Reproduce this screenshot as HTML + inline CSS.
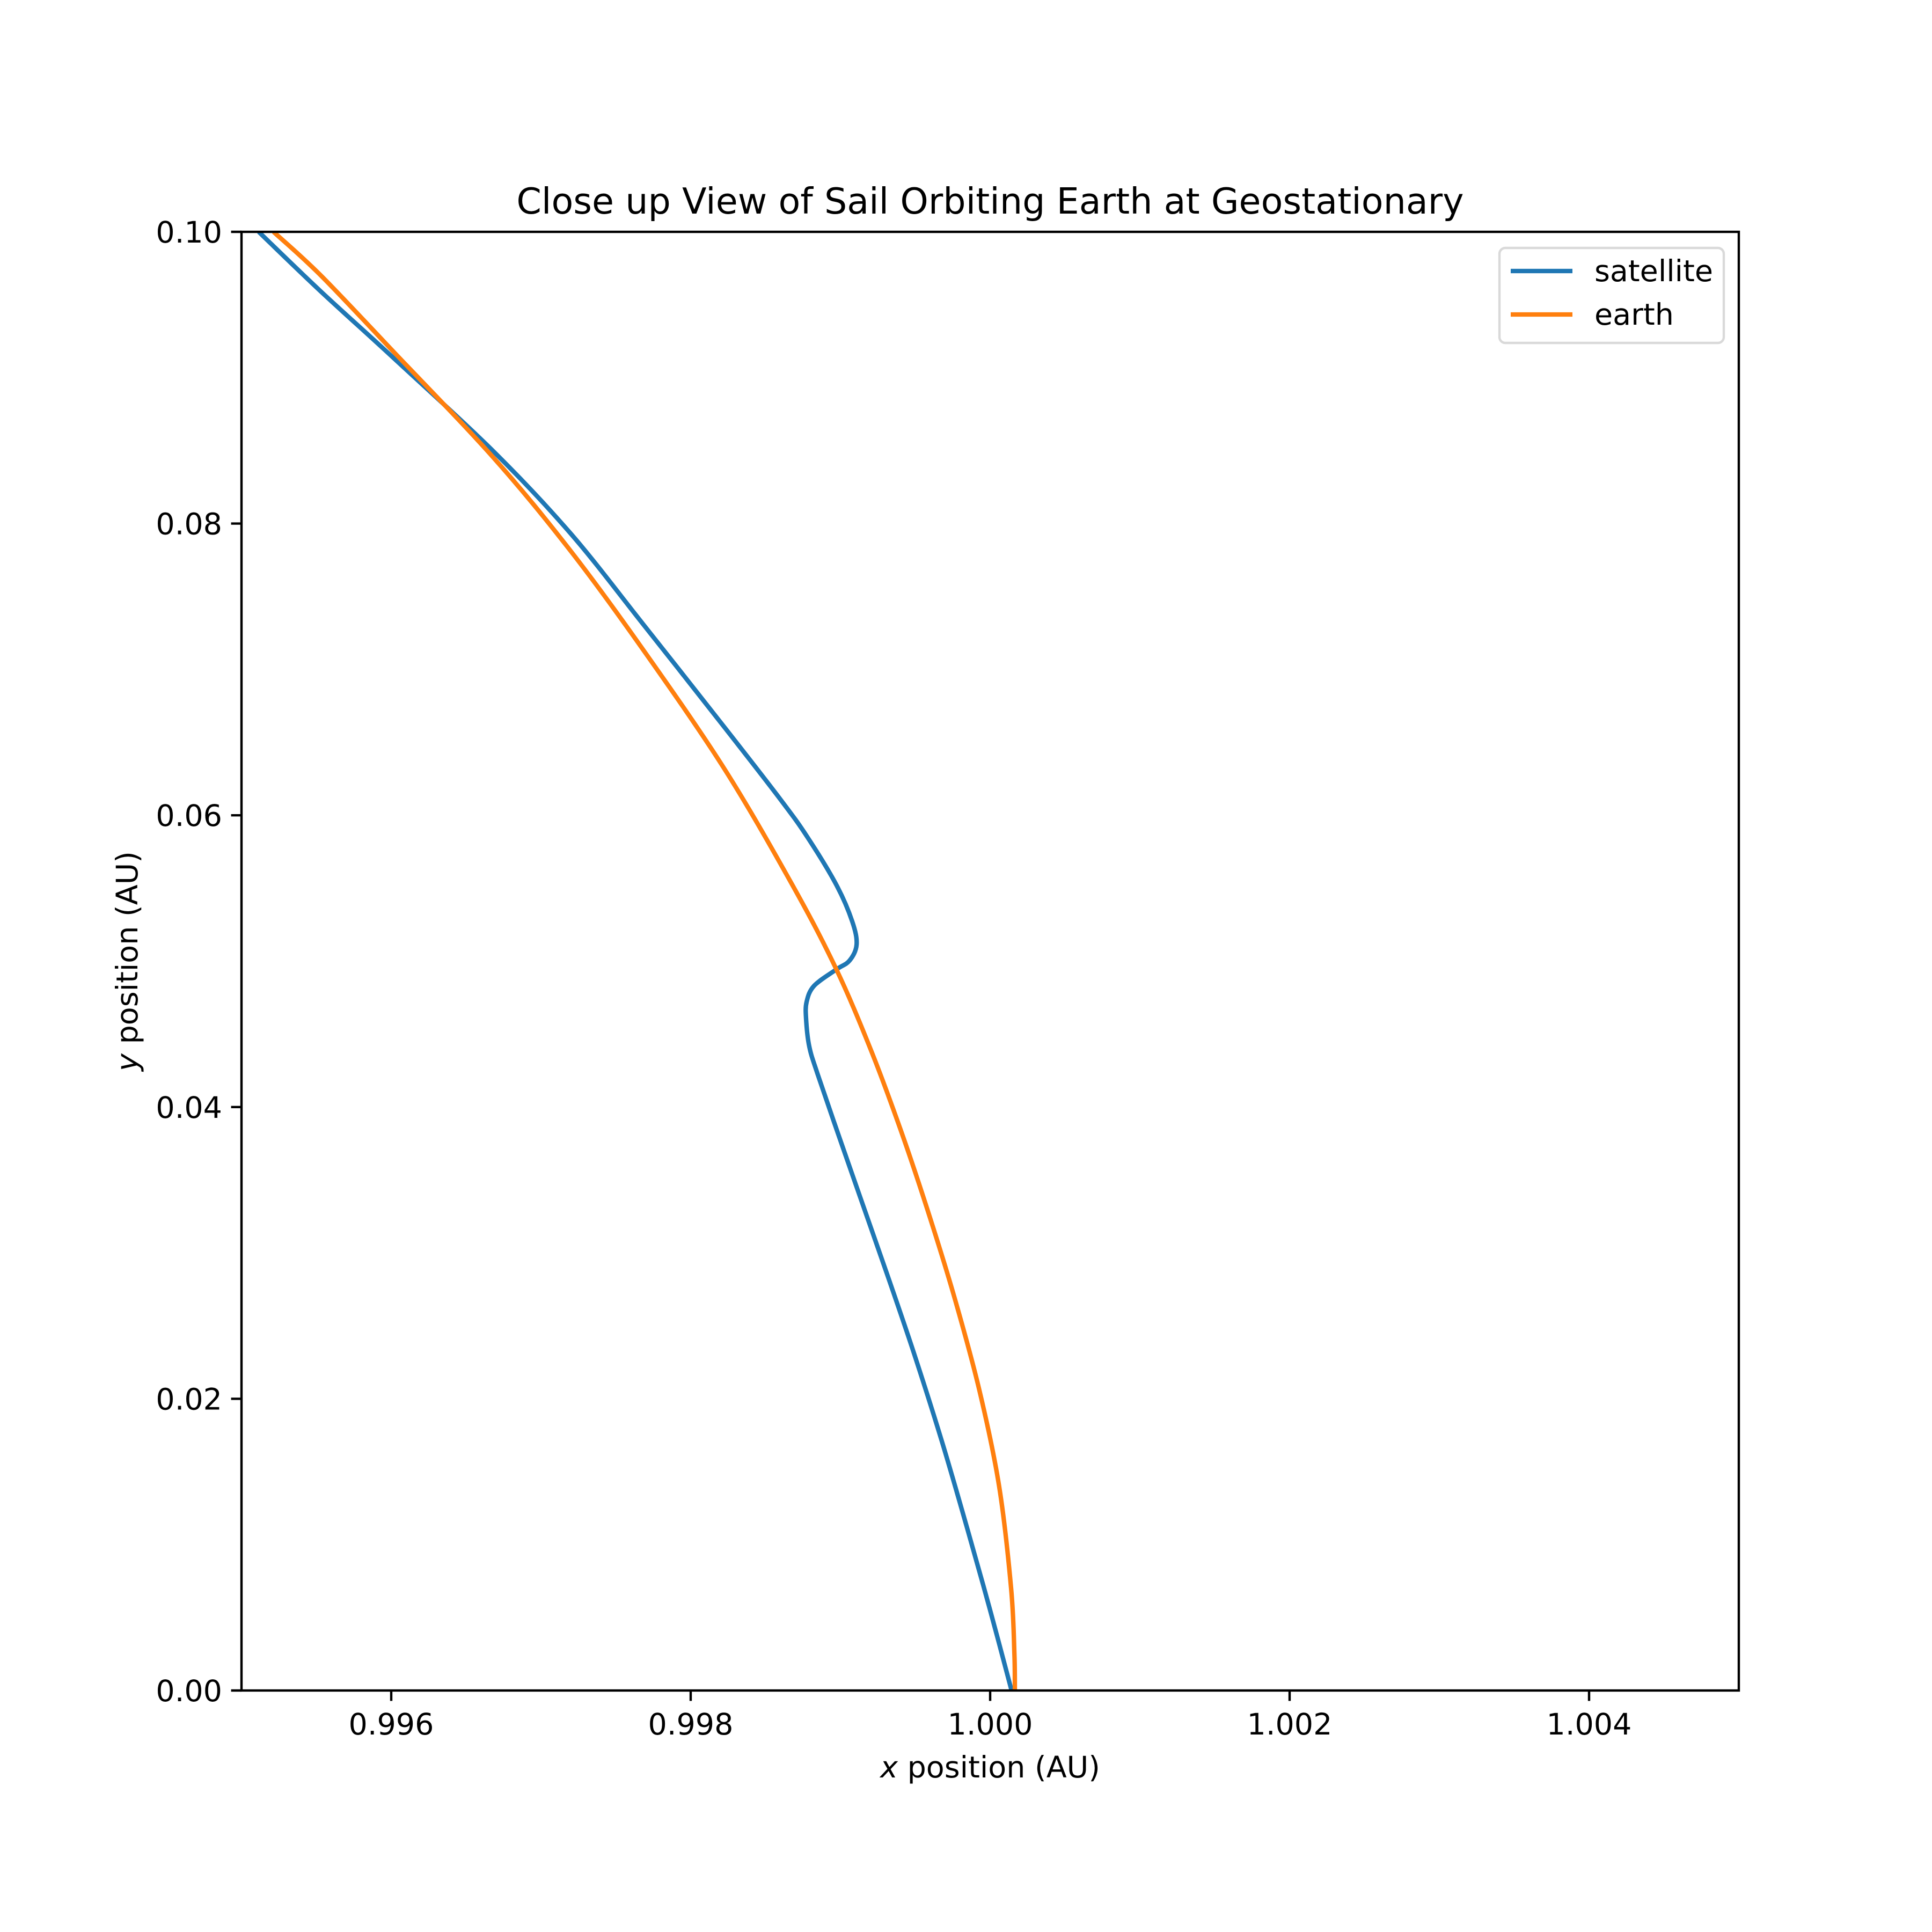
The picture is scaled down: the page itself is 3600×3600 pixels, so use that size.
<!DOCTYPE html>
<html><head><meta charset="utf-8"><style>
html,body{margin:0;padding:0;background:#fff}
svg{display:block}
text{font-family:"DejaVu Sans","Liberation Sans",sans-serif;fill:#000}
</style></head><body>
<svg id="chart" width="3600" height="3600" viewBox="0 0 3600 3600" xmlns="http://www.w3.org/2000/svg">
<rect x="0" y="0" width="3600" height="3600" fill="#fff"/>
<defs><clipPath id="plotclip"><rect x="450" y="432" width="2790" height="2718"/></clipPath></defs>
<g id="series" clip-path="url(#plotclip)"></g>
<g id="axes"></g>
<text x="1845" y="398" font-size="66.7" text-anchor="middle">Close up View of Sail Orbiting Earth at Geostationary</text>
<text x="1845" y="3312" font-size="55.5" text-anchor="middle"><tspan font-style="italic">x</tspan> position (AU)</text>
<text x="0" y="0" font-size="55.5" text-anchor="middle" transform="translate(256,1791) rotate(-90)"><tspan font-style="italic">y</tspan> position (AU)</text>
<g>
<rect x="2794" y="462" width="418" height="177" rx="11" fill="#fff" fill-opacity="0.8" stroke="#d9d9d9" stroke-width="4.4"/>
<line x1="2815" y1="505" x2="2930" y2="505" stroke="#1f77b4" stroke-width="8.3"/>
<text x="2971" y="524" font-size="55.5">satellite</text>
<line x1="2815" y1="586" x2="2930" y2="586" stroke="#ff7f0e" stroke-width="8.3"/>
<text x="2971" y="605" font-size="55.5">earth</text>
</g>
</svg>
<script>
const xTicks = [0.996, 0.998, 1.000, 1.002, 1.004];
const xTickLabels = ["0.996", "0.998", "1.000", "1.002", "1.004"];
const yTicks = [0, 0.02, 0.04, 0.06, 0.08, 0.10];
const yTickLabels = ["0.00", "0.02", "0.04", "0.06", "0.08", "0.10"];
const satX = [0.995115,0.995527,0.996021,0.996681,0.997200,0.997688,0.998226,0.998600,0.998780,0.998975,0.999079,0.999108,0.999061,0.998971,0.998824,0.998774,0.998771,0.998792,0.998846,0.998990,0.999160,0.999330,0.999495,0.999680,0.999850,1.000000,1.000143];
const satY = [0.1000,0.09594,0.09130,0.08497,0.07930,0.07303,0.06603,0.06108,0.05850,0.05519,0.05272,0.05114,0.05004,0.04942,0.04831,0.04720,0.04599,0.04415,0.04231,0.03800,0.03300,0.02800,0.02300,0.01700,0.01100,0.00550,0.0];
const earthX = [0.995214,0.995527,0.996021,0.996681,0.997200,0.997688,0.998226,0.998681,0.998971,0.999200,0.999400,0.999580,0.999760,0.999930,1.000060,1.000140,1.000162,1.000165];
const earthY = [0.1000,0.09704,0.09172,0.08454,0.07810,0.07127,0.06317,0.05519,0.04948,0.04400,0.03850,0.03300,0.02700,0.02050,0.01400,0.00700,0.00250,0.0];

const NS = "http://www.w3.org/2000/svg";
const L = 450, R = 3240, T = 432, B = 3150;
const xMin = 0.995, xMax = 1.005, yMin = 0, yMax = 0.1;
function sx(v){ return L + (v - xMin) / (xMax - xMin) * (R - L); }
function sy(v){ return B - (v - yMin) / (yMax - yMin) * (B - T); }

function smoothPath(xs, ys){
  const p = xs.map((x,i)=>[sx(x), sy(ys[i])]);
  let d = "M" + p[0][0] + "," + p[0][1];
  for (let i = 0; i < p.length - 1; i++){
    const p0 = p[Math.max(0,i-1)], p1 = p[i], p2 = p[i+1], p3 = p[Math.min(p.length-1,i+2)];
    const c1x = p1[0] + (p2[0]-p0[0])/6, c1y = p1[1] + (p2[1]-p0[1])/6;
    const c2x = p2[0] - (p3[0]-p1[0])/6, c2y = p2[1] - (p3[1]-p1[1])/6;
    d += " C" + c1x + "," + c1y + " " + c2x + "," + c2y + " " + p2[0] + "," + p2[1];
  }
  return d;
}

const series = document.getElementById("series");
const sat = document.createElementNS(NS, "path");


sat.setAttribute("d", smoothPath(satX, satY));
sat.setAttribute("fill", "none"); sat.setAttribute("stroke", "#1f77b4"); sat.setAttribute("stroke-width", "8.3");
sat.setAttribute("stroke-linejoin", "round");
series.appendChild(sat);
const earth = document.createElementNS(NS, "path");


earth.setAttribute("d", smoothPath(earthX, earthY));
earth.setAttribute("fill", "none"); earth.setAttribute("stroke", "#ff7f0e"); earth.setAttribute("stroke-width", "8.3");
earth.setAttribute("stroke-linejoin", "round");
series.appendChild(earth);

const axes = document.getElementById("axes");
const frame = document.createElementNS(NS, "rect");


frame.setAttribute("x", L); frame.setAttribute("y", T);
frame.setAttribute("width", R - L); frame.setAttribute("height", B - T);
frame.setAttribute("fill", "none"); frame.setAttribute("stroke", "#000"); frame.setAttribute("stroke-width", "4.4");
axes.appendChild(frame);

xTicks.forEach((v, i) => {
  const x = sx(v);
  const t = document.createElementNS(NS, "line");
  
  
  t.setAttribute("x1", x); t.setAttribute("x2", x); t.setAttribute("y1", B); t.setAttribute("y2", B + 19.4);
  t.setAttribute("stroke", "#000"); t.setAttribute("stroke-width", "4.4");
  axes.appendChild(t);
  const lb = document.createElementNS(NS, "text");
  
  
  lb.setAttribute("x", x); lb.setAttribute("y", B + 82); lb.setAttribute("font-size", "55.5"); lb.setAttribute("text-anchor", "middle");
  lb.textContent = xTickLabels[i];
  axes.appendChild(lb);
});
yTicks.forEach((v, i) => {
  const y = sy(v);
  const t = document.createElementNS(NS, "line");
  
  
  t.setAttribute("x1", L - 19.4); t.setAttribute("x2", L); t.setAttribute("y1", y); t.setAttribute("y2", y);
  t.setAttribute("stroke", "#000"); t.setAttribute("stroke-width", "4.4");
  axes.appendChild(t);
  const lb = document.createElementNS(NS, "text");
  
  
  lb.setAttribute("x", L - 36); lb.setAttribute("y", y + 20); lb.setAttribute("font-size", "55.5"); lb.setAttribute("text-anchor", "end");
  lb.textContent = yTickLabels[i];
  axes.appendChild(lb);
});
</script>
</body></html>
